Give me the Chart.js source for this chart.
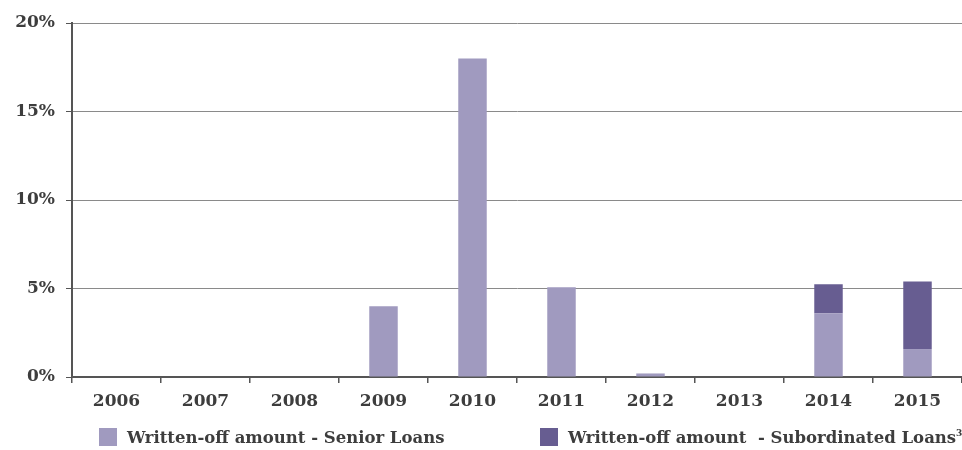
<!DOCTYPE html>
<html>
<head>
<meta charset="utf-8">
<script src="https://cdn.jsdelivr.net/npm/chart.js@4"></script>
<style>
  html, body { margin: 0; padding: 0; background: #fff; overflow: hidden; }
  #wrap { position: relative; width: 962px; height: 450px; }
  #legend { position: absolute; left: 0; top: 427px; width: 962px; height: 24px; overflow: hidden; }
  .item { position: absolute; top: 0; white-space: pre; font: bold 16.5px "DejaVu Serif", serif; color: #3d3d3d; line-height: 22px; }
  .box { display: inline-block; width: 18px; height: 18px; vertical-align: -3px; margin-right: 10px; }
  sup { font-size: 9px; line-height: 0; vertical-align: 0; position: relative; top: -7px; }
</style>
</head>
<body>
<div id="wrap">
  <canvas id="chart" width="962" height="450"></canvas>
  <div id="legend"></div>
</div>
<script>
const years = ['2006', '2007', '2008', '2009', '2010', '2011', '2012', '2013', '2014', '2015'];
const seniorLoans = [0, 0, 0, 4.0, 18.0, 5.07, 0.2, 0, 3.6, 1.58];
const subordinatedLoans = [0, 0, 0, 0, 0, 0, 0, 0, 1.64, 3.81];
const yTicks = [0, 5, 10, 15, 20];
const seriesLabels = ['Written-off amount - Senior Loans', 'Written-off amount  - Subordinated Loans'];
const seriesColors = ['#a09abf', '#675d91'];

const tickFont = { family: '"DejaVu Serif", serif', size: 17, weight: 'bold' };
const textColor = '#3d3d3d';

const ctx = document.getElementById('chart').getContext('2d');
const chart = new Chart(ctx, {
    type: 'bar',
    data: {
        labels: years,
        datasets: [{
            label: seriesLabels[0],
            data: seniorLoans,
            backgroundColor: seriesColors[0],
            barPercentage: 0.32,
            categoryPercentage: 1
        }, {
            label: seriesLabels[1],
            data: subordinatedLoans,
            backgroundColor: seriesColors[1],
            barPercentage: 0.32,
            categoryPercentage: 1
        }]
    },
    options: {
        responsive: false,
        animation: false,
        layout: { padding: { top: 23, bottom: 33, right: 0, left: 0 } },
        plugins: {
            legend: { display: false },
            tooltip: { enabled: false }
        },
        scales: {
            x: {
                stacked: true,
                grid: {
                    offset: true,
                    drawOnChartArea: false,
                    drawTicks: true,
                    tickLength: 6,
                    tickColor: '#555',
                    lineWidth: 1.5
                },
                border: { color: '#555', width: 2 },
                ticks: { font: tickFont, color: textColor, padding: 8 },
                afterFit: function (scale) { scale.height = 40; }
            },
            y: {
                stacked: true,
                min: 0,
                max: 20,
                afterBuildTicks: function (scale) {
                    scale.ticks = yTicks.map(v => ({ value: v }));
                },
                grid: {
                    color: '#8a8a8a',
                    lineWidth: 1,
                    tickLength: 6,
                    tickColor: '#555'
                },
                border: { color: '#555', width: 2 },
                ticks: {
                    font: tickFont,
                    color: textColor,
                    padding: 11,
                    callback: function (v) { return v + '%'; }
                },
                afterFit: function (scale) { scale.width = 72; }
            }
        }
    }
});

// Legend
const legend = document.getElementById('legend');
const legendX = [99, 540];
chart.data.datasets.forEach(function (ds, i) {
    const item = document.createElement('div');
    item.className = 'item';
    item.style.left = legendX[i] + 'px';
    item.innerHTML = '<span class="box" style="background:' + ds.backgroundColor + '"></span>' +
        ds.label + (i === 1 ? '<sup>3</sup>' : '');
    legend.appendChild(item);
});
</script>
</body>
</html>
